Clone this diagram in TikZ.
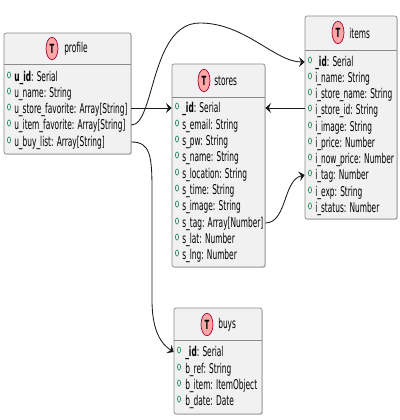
\documentclass[tikz,border=0pt]{standalone}
\usepackage{fontspec}
\setmainfont[FakeStretch=0.55]{DejaVu Sans}
\usetikzlibrary{arrows.meta,fit,shadows,shapes.geometric}
\definecolor{boxfill}{HTML}{F1F1F1}
\definecolor{boxline}{HTML}{8A8A8A}
\definecolor{spotfill}{HTML}{FFA6A6}
\definecolor{spotline}{HTML}{A80036}
\definecolor{markline}{HTML}{038048}
\tikzset{
	entity/.style={draw=boxline, fill=boxfill, rounded corners=1.5pt, inner sep=0pt, line width=0.5pt,
		drop shadow={shadow xshift=0.6pt, shadow yshift=-0.6pt, fill=black!25, opacity=0.7}},
	sepline/.style={draw=boxline, line width=0.5pt},
	spot/.style={ellipse, draw=spotline, fill=spotfill, line width=0.5pt, inner sep=0pt,
		minimum width=8.5pt, minimum height=16pt, font=\bfseries\fontsize{9}{10}\selectfont},
	title/.style={anchor=west, inner sep=0pt, font=\fontsize{9.6}{10}\selectfont},
	field/.style={anchor=west, inner sep=0pt, text height=7.6pt, text depth=1pt, font=\fontsize{9.6}{11}\selectfont},
	marker/.style={ellipse, draw=markline, line width=0.4pt, inner sep=0pt, minimum width=2.2pt, minimum height=4.4pt},
	link/.style={draw=black!90, line width=0.6pt, -{Stealth[length=4pt, width=7pt, inset=1.5pt]}}
}
\begin{document}
\begin{tikzpicture}[x=0.025cm, y=-0.025cm]
	\useasboundingbox (0,0) rectangle (400,420);

	% profile
	\node[entity, fit={(4,33) (131,154)}] (profile) {};
	\draw[sepline] (4,64) -- (131,64);
	\node[spot] (profilespot) at (52,48.5) {T};
	\node[title] (profilename) at (64,49) {profile};
	\foreach \y/\n/\t in {77/uid/\textbf{u\_id}: Serial, 93/uname/u\_name: String,
		109/ustore/u\_store\_favorite: Array[String], 125/uitem/u\_item\_favorite: Array[String],
		142/ubuy/u\_buy\_list: Array[String]} {
		\node[marker] (m\n) at (9,\y-2) {};
		\node[field] (\n) at (14,\y) {\t};
	}

	% stores
	\node[entity, fit={(172,64) (265,267)}] (stores) {};
	\draw[sepline] (172,97) -- (265,97);
	\node[spot] (storesspot) at (204,80.5) {T};
	\node[title] (storesname) at (214,81) {stores};
	\foreach \y/\n/\t in {108/sid/\textbf{\_id}: Serial, 125/semail/s\_email: String,
		141/spw/s\_pw: String, 157/sname/s\_name: String, 174/sloc/s\_location: String,
		190/stime/s\_time: String, 206/simage/s\_image: String, 223/stag/s\_tag: Array[Number],
		239/slat/s\_lat: Number, 255/slng/s\_lng: Number} {
		\node[marker] (m\n) at (177,\y-2) {};
		\node[field] (\n) at (182,\y) {\t};
	}

	% items
	\node[entity, fit={(305,16) (397,219)}] (items) {};
	\draw[sepline] (305,50) -- (397,50);
	\node[spot] (itemsspot) at (338,32.5) {T};
	\node[title] (itemsname) at (349,33) {items};
	\foreach \y/\n/\t in {62/iid/\textbf{\_id}: Serial, 78/iname/i\_name: String,
		94/istore/i\_store\_name: String, 110/istoreid/i\_store\_id: String, 127/iimage/i\_image: String,
		143/iprice/i\_price: Number, 159/inow/i\_now\_price: Number, 175/itag/i\_tag: Number,
		192/iexp/i\_exp: String, 208/istatus/i\_status: Number} {
		\node[marker] (m\n) at (310,\y-2) {};
		\node[field] (\n) at (315,\y) {\t};
	}

	% buys
	\node[entity, fit={(174,308) (262,414)}] (buys) {};
	\draw[sepline] (174,340) -- (262,340);
	\node[spot] (buysspot) at (207,324.5) {T};
	\node[title] (buysname) at (218,325) {buys};
	\foreach \y/\n/\t in {352/bid/\textbf{\_id}: Serial, 369/bref/b\_ref: String,
		385/bitem/b\_item: ItemObject, 401/bdate/b\_date: Date} {
		\node[marker] (m\n) at (179,\y-2) {};
		\node[field] (\n) at (185,\y) {\t};
	}

	% links
	\draw[link] (sid -| profile.east) -- (sid -| stores.west);
	\draw[link] (uitem -| profile.east) .. controls (155,125) and (150,23) .. (200,23)
		.. controls (245,23) and (275,62) .. (iid -| items.west);
	\draw[link] (ubuy -| profile.east) .. controls (150,142) and (152,155) .. (152,190)
		-- (152,300) .. controls (152,325) and (158,342) .. (bid -| buys.west);
	\draw[link] (sid -| items.west) -- (sid -| stores.east);
	\draw[link] (stag -| stores.east) .. controls (287,223) and (283,180) .. (itag -| items.west);
\end{tikzpicture}
\end{document}
